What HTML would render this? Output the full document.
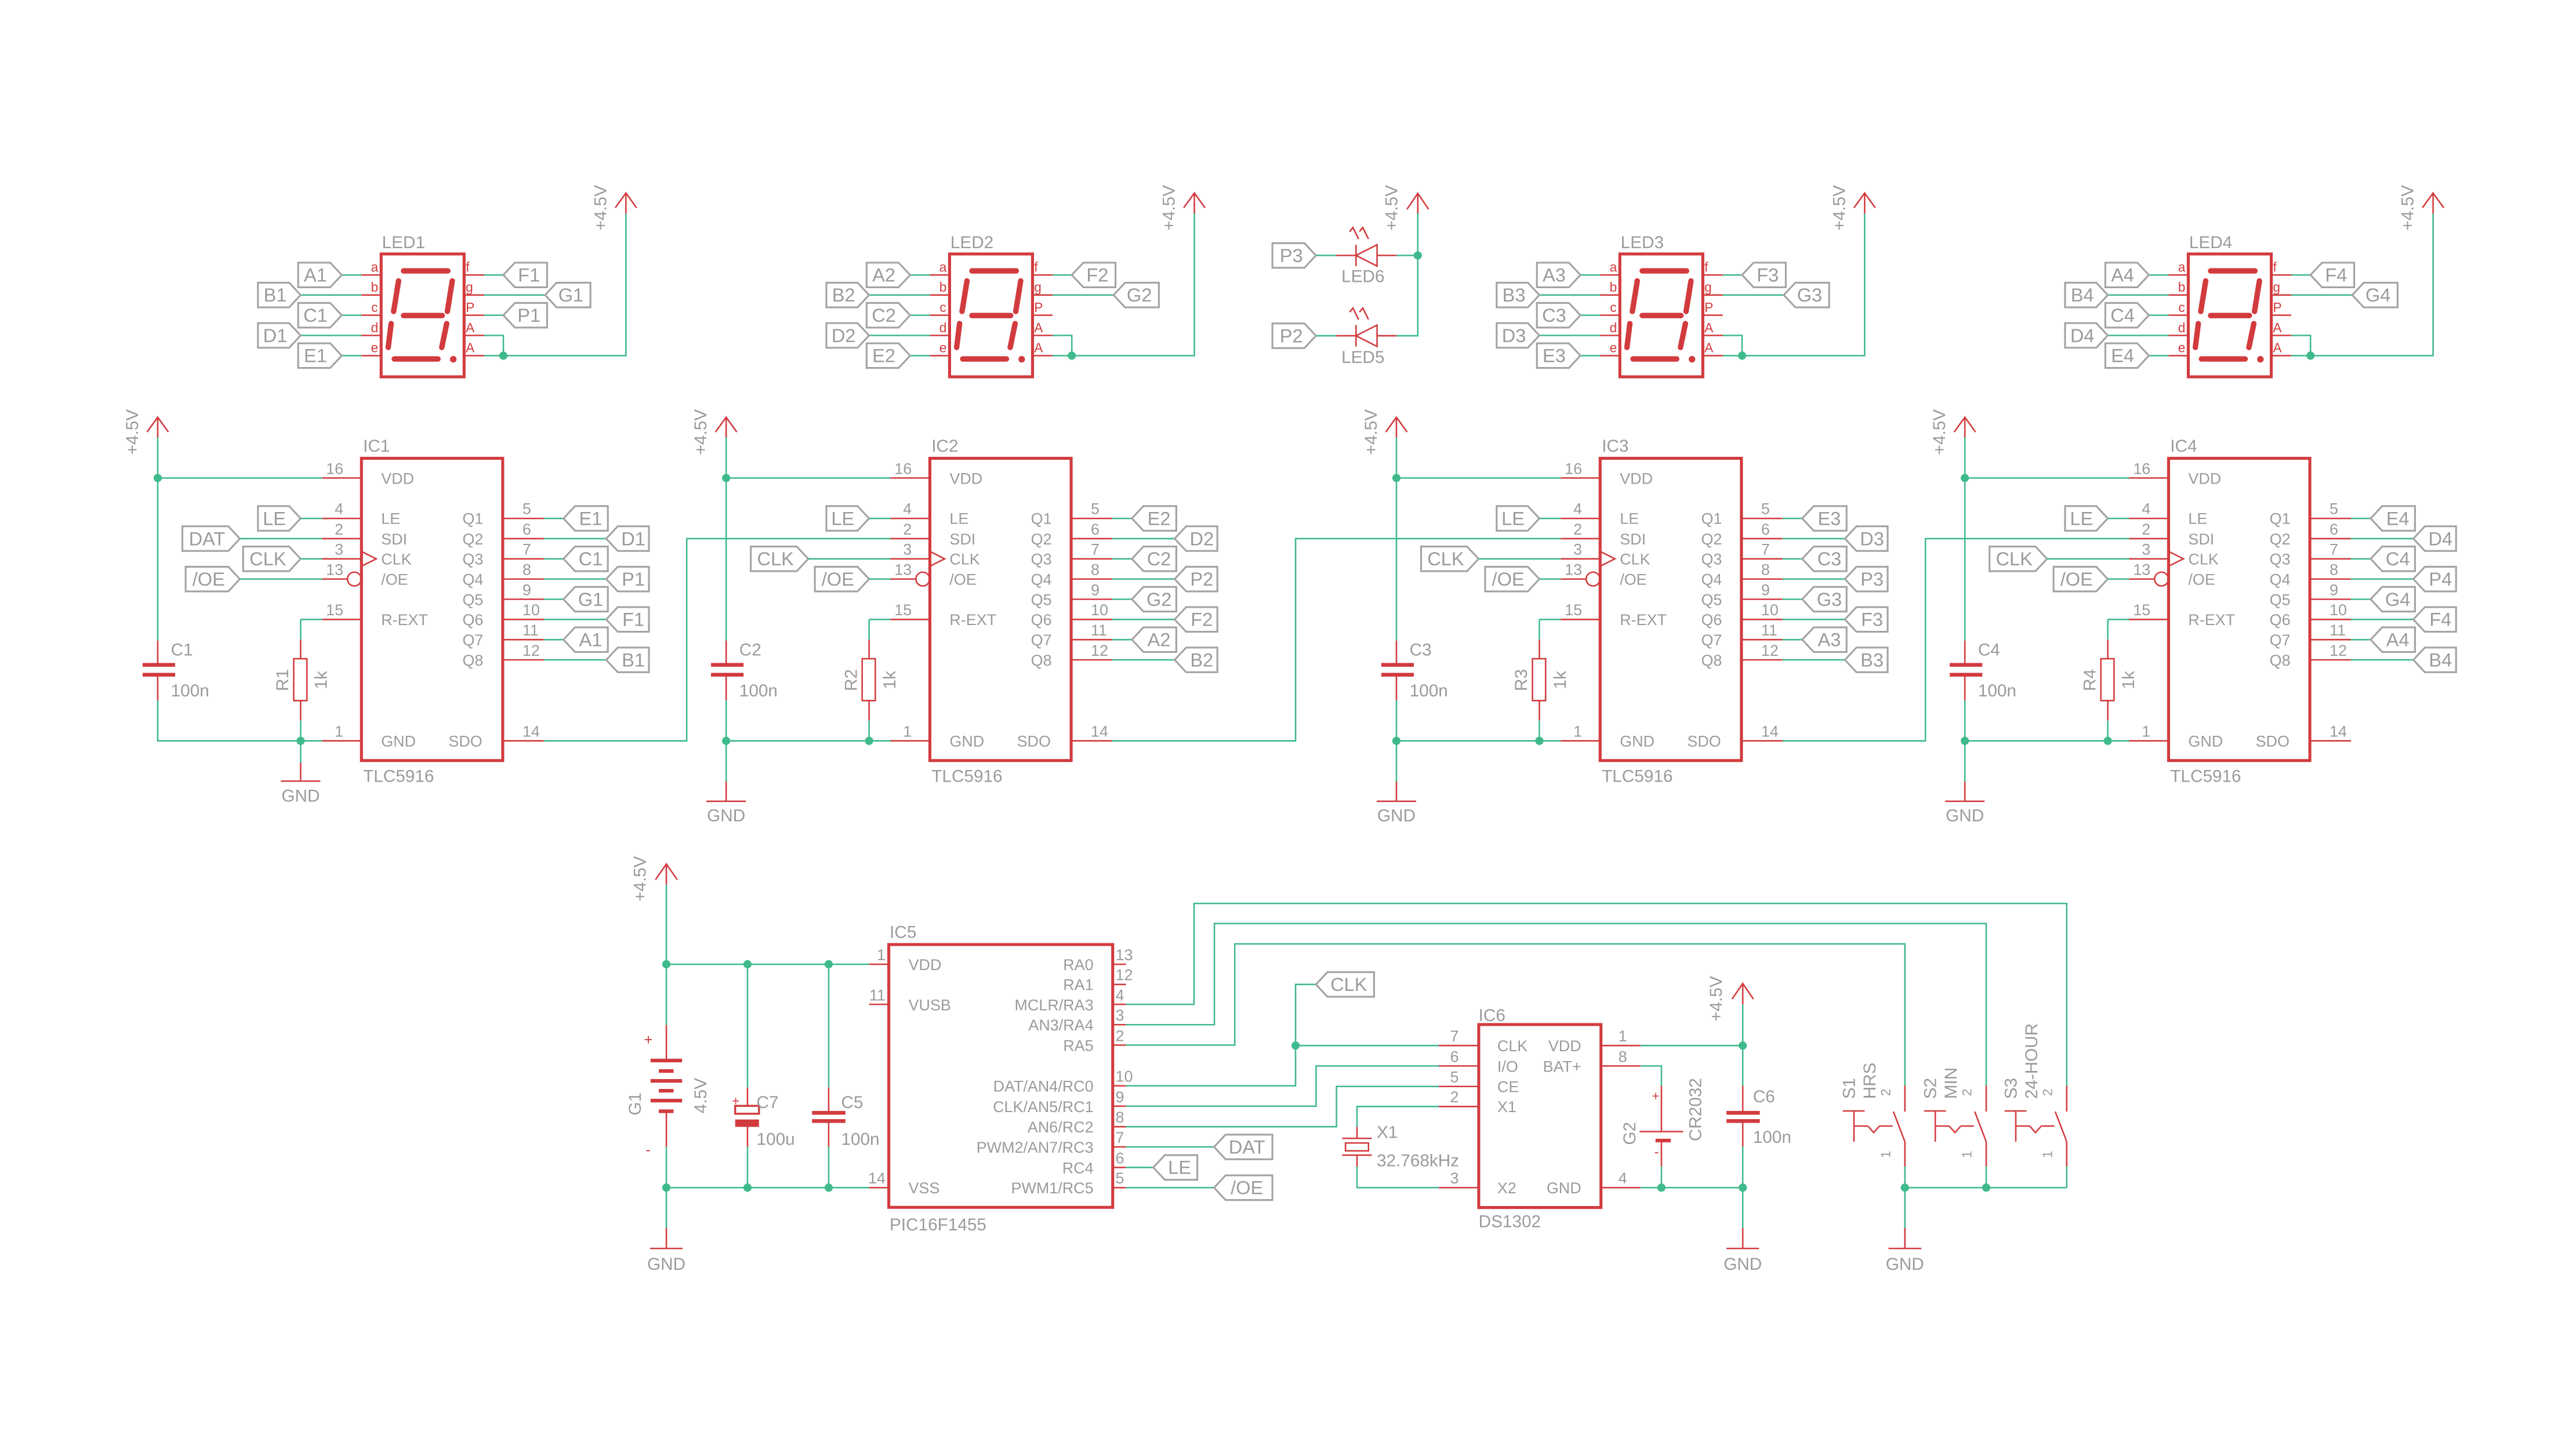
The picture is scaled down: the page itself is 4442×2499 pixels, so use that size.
<!DOCTYPE html>
<html><head><meta charset="utf-8"><style>
html,body{margin:0;padding:0;background:#fff}
svg{display:block}
.w{stroke:#3fba8c;stroke-width:.9;fill:none}
.r{stroke:#d23b3e;stroke-width:.9;fill:none}
.b{stroke:#d23b3e;stroke-width:1.8;fill:none}
.s{stroke:#d23b3e;stroke-width:3.3;fill:none;stroke-linecap:round}
.f{stroke:#a3a3a3;stroke-width:1.1;fill:none}
.pl{stroke:#d23b3e;stroke-width:2.2;fill:none}
.d{fill:#3fba8c}
text{font-family:"Liberation Sans",sans-serif;fill:#9b9b9b}
.t{font-size:11.5px}
.p{font-size:9.5px}
.n{font-size:10.5px}
.l{font-size:8px;fill:#d23b3e}
.m{text-anchor:middle}
.e{text-anchor:end}
</style></head><body>
<svg width="4442" height="2499" viewBox="0 0 1568 882.1" preserveAspectRatio="none" xmlns="http://www.w3.org/2000/svg">
<defs>
<g id="tlc">
<rect x="220" y="279" width="86" height="184" class="b"/>
<path class="r" d="M196 291H220M196 315.6H220M196 327.9H220M196 340.2H220M196 352.5H211.4M196 377.1H220M196 451H220"/>
<circle cx="215.7" cy="352.5" r="4.2" class="r"/>
<path class="r" d="M220 335.7L229 340.2L220 344.7"/>
<path class="r" d="M306 315.6H331M306 327.9H331M306 340.2H331M306 352.5H331M306 364.8H331M306 377.1H331M306 389.4H331M306 401.7H331M306 451H331"/>
<path class="w" d="M331 315.6H343M331 327.9H369M331 340.2H343M331 352.5H369M331 364.8H343M331 377.1H369M331 389.4H343M331 401.7H369"/>
<polygon class="f" points="343,315.6 350,308.1 370,308.1 370,323.1 350,323.1"/>
<polygon class="f" points="369,327.9 376,320.4 395,320.4 395,335.4 376,335.4"/>
<polygon class="f" points="343,340.2 350,332.7 370,332.7 370,347.7 350,347.7"/>
<polygon class="f" points="369,352.5 376,345 395,345 395,360 376,360"/>
<polygon class="f" points="343,364.8 350,357.3 370,357.3 370,372.3 350,372.3"/>
<polygon class="f" points="369,377.1 376,369.6 395,369.6 395,384.6 376,384.6"/>
<polygon class="f" points="343,389.4 350,381.9 370,381.9 370,396.9 350,396.9"/>
<polygon class="f" points="369,401.7 376,394.2 395,394.2 395,409.2 376,409.2"/>
<polygon class="f" points="157,308.1 176,308.1 183,315.6 176,323.1 157,323.1"/>
<path class="w" d="M183 315.6H196"/>
<path class="r" d="M96 254V266.4M89.5 263L96 254L102.5 263"/>
<path class="w" d="M96 266.4V390M96 291H196M96 426.4V451H196M183 377.1H196M183 377.1V389.4M183 438.6V451"/>
<path class="r" d="M96 390V404.6M96 411.4V426.4M183 389.4V401M183 426.5V438.6"/>
<rect x="86.8" y="403.6" width="19.8" height="2.3" fill="#d23b3e"/>
<rect x="86.8" y="409.6" width="19.8" height="2.3" fill="#d23b3e"/>
<rect x="178.8" y="401" width="8" height="25.5" class="r"/>
<circle cx="96" cy="291" r="2.5" class="d"/>
<circle cx="183" cy="451" r="2.5" class="d"/>
</g>
<g id="led">
<rect x="232" y="154.6" width="50.5" height="74.8" class="b"/>
<path class="s" d="M245.6 164.9H272.6M242.6 171L239.6 189.6M275.3 171L272.3 189.6M245.6 192.1H269.2M238.1 197L236.3 211.5M271.9 197L268.9 211.5M240 218.5H266.6"/>
<circle cx="275.9" cy="218.7" r="2" fill="#d23b3e"/>
<path class="r" d="M220 167.4H232M220 179.6H232M220 191.9H232M220 204.2H232M220 216.5H232M282.5 167.4H294.7M282.5 179.6H294.7M282.5 191.9H294.7M282.5 204.2H294.7M282.5 216.5H294.7"/>
<path class="w" d="M294.7 204.2H306.4V216.5M294.7 216.5H381V130M208 167.4H220M183 179.6H220M208 191.9H220M183 204.2H220M208 216.5H220M294.7 167.4H306.4M294.7 179.6H331.8"/>
<circle cx="306.4" cy="216.5" r="2.5" class="d"/>
<path class="r" d="M381 117.5V130M374.5 126.5L381 117.5L387.5 126.5"/>
<polygon class="f" points="181.5,159.9 201,159.9 208,167.4 201,174.9 181.5,174.9"/>
<polygon class="f" points="157,172.1 176,172.1 183,179.6 176,187.1 157,187.1"/>
<polygon class="f" points="181.5,184.4 201,184.4 208,191.9 201,199.4 181.5,199.4"/>
<polygon class="f" points="157,196.7 176,196.7 183,204.2 176,211.7 157,211.7"/>
<polygon class="f" points="181.5,209 201,209 208,216.5 201,224 181.5,224"/>
<polygon class="f" points="306.4,167.4 313.4,159.9 333,159.9 333,174.9 313.4,174.9"/>
<polygon class="f" points="331.8,179.6 338.8,172.1 359.4,172.1 359.4,187.1 338.8,187.1"/>
</g>
</defs>

<!-- ===== LED displays ===== -->
<use href="#led"/>
<use href="#led" transform="translate(346,0)"/>
<use href="#led" transform="translate(754,0)"/>
<use href="#led" transform="translate(1100,0)"/>
<!-- LED1 P1 flag -->
<path class="w" d="M294.7 191.9H306.4"/>
<polygon class="f" points="306.4,191.9 313.4,184.4 333,184.4 333,199.4 313.4,199.4"/>

<g>
<text class="n" x="232.5" y="151">LED1</text>
<text class="l m" x="228" y="165.4">a</text><text class="l m" x="228" y="177.6">b</text><text class="l m" x="228" y="189.9">c</text><text class="l m" x="228" y="202.2">d</text><text class="l m" x="228" y="214.5">e</text>
<text class="l" x="283.5" y="165.4">f</text><text class="l" x="283.5" y="177.6">g</text><text class="l" x="283.5" y="189.9">P</text><text class="l" x="283.5" y="202.2">A</text><text class="l" x="283.5" y="214.5">A</text>
<text class="t m" x="192" y="171.4">A1</text><text class="t m" x="167.5" y="183.6">B1</text><text class="t m" x="192" y="195.9">C1</text><text class="t m" x="167.5" y="208.2">D1</text><text class="t m" x="192" y="220.5">E1</text>
<text class="t m" x="322" y="171.4">F1</text><text class="t m" x="347.5" y="183.6">G1</text><text class="t m" x="322" y="195.9">P1</text>
<text class="n m" transform="translate(369,126.5) rotate(-90)">+4.5V</text>
</g>
<g transform="translate(346,0)">
<text class="n" x="232.5" y="151">LED2</text>
<text class="l m" x="228" y="165.4">a</text><text class="l m" x="228" y="177.6">b</text><text class="l m" x="228" y="189.9">c</text><text class="l m" x="228" y="202.2">d</text><text class="l m" x="228" y="214.5">e</text>
<text class="l" x="283.5" y="165.4">f</text><text class="l" x="283.5" y="177.6">g</text><text class="l" x="283.5" y="189.9">P</text><text class="l" x="283.5" y="202.2">A</text><text class="l" x="283.5" y="214.5">A</text>
<text class="t m" x="192" y="171.4">A2</text><text class="t m" x="167.5" y="183.6">B2</text><text class="t m" x="192" y="195.9">C2</text><text class="t m" x="167.5" y="208.2">D2</text><text class="t m" x="192" y="220.5">E2</text>
<text class="t m" x="322" y="171.4">F2</text><text class="t m" x="347.5" y="183.6">G2</text>
<text class="n m" transform="translate(369,126.5) rotate(-90)">+4.5V</text>
</g>
<g transform="translate(754,0)">
<text class="n" x="232.5" y="151">LED3</text>
<text class="l m" x="228" y="165.4">a</text><text class="l m" x="228" y="177.6">b</text><text class="l m" x="228" y="189.9">c</text><text class="l m" x="228" y="202.2">d</text><text class="l m" x="228" y="214.5">e</text>
<text class="l" x="283.5" y="165.4">f</text><text class="l" x="283.5" y="177.6">g</text><text class="l" x="283.5" y="189.9">P</text><text class="l" x="283.5" y="202.2">A</text><text class="l" x="283.5" y="214.5">A</text>
<text class="t m" x="192" y="171.4">A3</text><text class="t m" x="167.5" y="183.6">B3</text><text class="t m" x="192" y="195.9">C3</text><text class="t m" x="167.5" y="208.2">D3</text><text class="t m" x="192" y="220.5">E3</text>
<text class="t m" x="322" y="171.4">F3</text><text class="t m" x="347.5" y="183.6">G3</text>
<text class="n m" transform="translate(369,126.5) rotate(-90)">+4.5V</text>
</g>
<g transform="translate(1100,0)">
<text class="n" x="232.5" y="151">LED4</text>
<text class="l m" x="228" y="165.4">a</text><text class="l m" x="228" y="177.6">b</text><text class="l m" x="228" y="189.9">c</text><text class="l m" x="228" y="202.2">d</text><text class="l m" x="228" y="214.5">e</text>
<text class="l" x="283.5" y="165.4">f</text><text class="l" x="283.5" y="177.6">g</text><text class="l" x="283.5" y="189.9">P</text><text class="l" x="283.5" y="202.2">A</text><text class="l" x="283.5" y="214.5">A</text>
<text class="t m" x="192" y="171.4">A4</text><text class="t m" x="167.5" y="183.6">B4</text><text class="t m" x="192" y="195.9">C4</text><text class="t m" x="167.5" y="208.2">D4</text><text class="t m" x="192" y="220.5">E4</text>
<text class="t m" x="322" y="171.4">F4</text><text class="t m" x="347.5" y="183.6">G4</text>
<text class="n m" transform="translate(369,126.5) rotate(-90)">+4.5V</text>
</g>

<!-- LED5 / LED6 -->
<g>
<polygon class="f" points="774.5,148 794,148 801,155.5 794,163 774.5,163"/>
<polygon class="f" points="774.5,196.9 794,196.9 801,204.4 794,211.9 774.5,211.9"/>
<text class="t m" x="786" y="159.5">P3</text>
<text class="t m" x="786" y="208.4">P2</text>
<path class="w" d="M801 155.5H813.4M850.1 155.5H863M801 204.4H813.4M850.1 204.4H863V130"/>
<path class="r" d="M813.4 155.5H825.4M838.2 155.5H850.1M825.4 149V162M838.2 149V162L825.4 155.5Z"/>
<path class="r" d="M813.4 204.4H825.4M838.2 204.4H850.1M825.4 197.9V210.9M838.2 197.9V210.9L825.4 204.4Z"/>
<path class="r" d="M827 145.5L823.5 138.5M833 145.5L829.5 138.5M821.5 141L823.5 138.5L825 141.5M827.5 141L829.5 138.5L831 141.5"/>
<path class="r" d="M827 194.5L823.5 187.5M833 194.5L829.5 187.5M821.5 190L823.5 187.5L825 190.5M827.5 190L829.5 187.5L831 190.5"/>
<circle cx="863" cy="155.5" r="2.5" class="d"/>
<path class="r" d="M863 117.7V130M856.4 127.4L863 117.7L869.6 127.4"/>
<text class="n" x="816.5" y="171.8">LED6</text>
<text class="n" x="816.5" y="221">LED5</text>
<text class="n m" transform="translate(850.5,126.5) rotate(-90)">+4.5V</text>
</g>

<!-- ===== TLC5916 ===== -->
<use href="#tlc"/>
<use href="#tlc" transform="translate(346,0)"/>
<use href="#tlc" transform="translate(754,0)"/>
<use href="#tlc" transform="translate(1100,0)"/>

<!-- IC1 specifics -->
<polygon class="f" points="111,320.4 139,320.4 146,327.9 139,335.4 111,335.4"/>
<polygon class="f" points="148,332.7 176,332.7 183,340.2 176,347.7 148,347.7"/>
<polygon class="f" points="113,345 139,345 146,352.5 139,360 113,360"/>
<path class="w" d="M146 327.9H196M183 340.2H196M146 352.5H196M183 451V464.4"/>
<path class="r" d="M183 464.4V475.5M171 475.5H195"/>
<text class="n m" x="183" y="488">GND</text>
<!-- chain wires -->
<path class="w" d="M331 451H418V327.9H542"/>
<path class="w" d="M677 451H788.6V327.9H950"/>
<path class="w" d="M1085 451H1172V327.9H1296"/>
<!-- IC2-4 specifics -->
<g transform="translate(346,0)">
<polygon class="f" points="111,332.7 139,332.7 146,340.2 139,347.7 111,347.7"/>
<polygon class="f" points="150,345 176,345 183,352.5 176,360 150,360"/>
<path class="w" d="M146 340.2H196M183 352.5H196M96 451V476"/>
<path class="r" d="M96 476V487.8M84 487.8H108"/>
<circle cx="96" cy="451" r="2.5" class="d"/>
<text class="n m" x="96" y="500">GND</text>
</g>
<g transform="translate(754,0)">
<polygon class="f" points="111,332.7 139,332.7 146,340.2 139,347.7 111,347.7"/>
<polygon class="f" points="150,345 176,345 183,352.5 176,360 150,360"/>
<path class="w" d="M146 340.2H196M183 352.5H196M96 451V476"/>
<path class="r" d="M96 476V487.8M84 487.8H108"/>
<circle cx="96" cy="451" r="2.5" class="d"/>
<text class="n m" x="96" y="500">GND</text>
</g>
<g transform="translate(1100,0)">
<polygon class="f" points="111,332.7 139,332.7 146,340.2 139,347.7 111,347.7"/>
<polygon class="f" points="150,345 176,345 183,352.5 176,360 150,360"/>
<path class="w" d="M146 340.2H196M183 352.5H196M96 451V476"/>
<path class="r" d="M96 476V487.8M84 487.8H108"/>
<circle cx="96" cy="451" r="2.5" class="d"/>
<text class="n m" x="96" y="500">GND</text>
</g>

<!-- IC texts -->
<g>
<text class="n" x="221" y="275">IC1</text><text class="n" x="221" y="476">TLC5916</text>
<text class="p e" x="209" y="288.5">16</text><text class="p e" x="209" y="313">4</text><text class="p e" x="209" y="325.4">2</text><text class="p e" x="209" y="337.7">3</text><text class="p e" x="209" y="350">13</text><text class="p e" x="209" y="374.6">15</text><text class="p e" x="209" y="448.5">1</text>
<text class="p" x="318" y="313">5</text><text class="p" x="318" y="325.4">6</text><text class="p" x="318" y="337.7">7</text><text class="p" x="318" y="350">8</text><text class="p" x="318" y="362.3">9</text><text class="p" x="318" y="374.6">10</text><text class="p" x="318" y="386.9">11</text><text class="p" x="318" y="399.2">12</text><text class="p" x="318" y="448.5">14</text>
<text class="p" x="232" y="294.5">VDD</text><text class="p" x="232" y="319">LE</text><text class="p" x="232" y="331.4">SDI</text><text class="p" x="232" y="343.7">CLK</text><text class="p" x="232" y="356">/OE</text><text class="p" x="232" y="380.6">R-EXT</text><text class="p" x="232" y="454.5">GND</text>
<text class="p" x="281.5" y="319">Q1</text><text class="p" x="281.5" y="331.4">Q2</text><text class="p" x="281.5" y="343.7">Q3</text><text class="p" x="281.5" y="356">Q4</text><text class="p" x="281.5" y="368.3">Q5</text><text class="p" x="281.5" y="380.6">Q6</text><text class="p" x="281.5" y="392.9">Q7</text><text class="p" x="281.5" y="405.2">Q8</text><text class="p" x="273" y="454.5">SDO</text>
<text class="t m" x="167" y="319.6">LE</text>
<text class="t m" x="126" y="331.9">DAT</text><text class="t m" x="163" y="344.2">CLK</text><text class="t m" x="127" y="356.5">/OE</text>
<text class="t m" x="359.5" y="319.6">E1</text><text class="t m" x="385.5" y="331.9">D1</text><text class="t m" x="359.5" y="344.2">C1</text><text class="t m" x="385.5" y="356.5">P1</text><text class="t m" x="359.5" y="368.8">G1</text><text class="t m" x="385.5" y="381.1">F1</text><text class="t m" x="359.5" y="393.4">A1</text><text class="t m" x="385.5" y="405.7">B1</text>
<text class="n" x="104" y="399">C1</text><text class="n" x="104" y="424">100n</text>
<text class="n m" transform="translate(175.5,414) rotate(-90)">R1</text>
<text class="n m" transform="translate(199,414) rotate(-90)">1k</text>
<text class="n m" transform="translate(84,263) rotate(-90)">+4.5V</text>
</g>
<g transform="translate(346,0)">
<text class="n" x="221" y="275">IC2</text><text class="n" x="221" y="476">TLC5916</text>
<text class="p e" x="209" y="288.5">16</text><text class="p e" x="209" y="313">4</text><text class="p e" x="209" y="325.4">2</text><text class="p e" x="209" y="337.7">3</text><text class="p e" x="209" y="350">13</text><text class="p e" x="209" y="374.6">15</text><text class="p e" x="209" y="448.5">1</text>
<text class="p" x="318" y="313">5</text><text class="p" x="318" y="325.4">6</text><text class="p" x="318" y="337.7">7</text><text class="p" x="318" y="350">8</text><text class="p" x="318" y="362.3">9</text><text class="p" x="318" y="374.6">10</text><text class="p" x="318" y="386.9">11</text><text class="p" x="318" y="399.2">12</text><text class="p" x="318" y="448.5">14</text>
<text class="p" x="232" y="294.5">VDD</text><text class="p" x="232" y="319">LE</text><text class="p" x="232" y="331.4">SDI</text><text class="p" x="232" y="343.7">CLK</text><text class="p" x="232" y="356">/OE</text><text class="p" x="232" y="380.6">R-EXT</text><text class="p" x="232" y="454.5">GND</text>
<text class="p" x="281.5" y="319">Q1</text><text class="p" x="281.5" y="331.4">Q2</text><text class="p" x="281.5" y="343.7">Q3</text><text class="p" x="281.5" y="356">Q4</text><text class="p" x="281.5" y="368.3">Q5</text><text class="p" x="281.5" y="380.6">Q6</text><text class="p" x="281.5" y="392.9">Q7</text><text class="p" x="281.5" y="405.2">Q8</text><text class="p" x="273" y="454.5">SDO</text>
<text class="t m" x="167" y="319.6">LE</text>
<text class="t m" x="126" y="344.2">CLK</text><text class="t m" x="164" y="356.5">/OE</text>
<text class="t m" x="359.5" y="319.6">E2</text><text class="t m" x="385.5" y="331.9">D2</text><text class="t m" x="359.5" y="344.2">C2</text><text class="t m" x="385.5" y="356.5">P2</text><text class="t m" x="359.5" y="368.8">G2</text><text class="t m" x="385.5" y="381.1">F2</text><text class="t m" x="359.5" y="393.4">A2</text><text class="t m" x="385.5" y="405.7">B2</text>
<text class="n" x="104" y="399">C2</text><text class="n" x="104" y="424">100n</text>
<text class="n m" transform="translate(175.5,414) rotate(-90)">R2</text>
<text class="n m" transform="translate(199,414) rotate(-90)">1k</text>
<text class="n m" transform="translate(84,263) rotate(-90)">+4.5V</text>
</g>
<g transform="translate(754,0)">
<text class="n" x="221" y="275">IC3</text><text class="n" x="221" y="476">TLC5916</text>
<text class="p e" x="209" y="288.5">16</text><text class="p e" x="209" y="313">4</text><text class="p e" x="209" y="325.4">2</text><text class="p e" x="209" y="337.7">3</text><text class="p e" x="209" y="350">13</text><text class="p e" x="209" y="374.6">15</text><text class="p e" x="209" y="448.5">1</text>
<text class="p" x="318" y="313">5</text><text class="p" x="318" y="325.4">6</text><text class="p" x="318" y="337.7">7</text><text class="p" x="318" y="350">8</text><text class="p" x="318" y="362.3">9</text><text class="p" x="318" y="374.6">10</text><text class="p" x="318" y="386.9">11</text><text class="p" x="318" y="399.2">12</text><text class="p" x="318" y="448.5">14</text>
<text class="p" x="232" y="294.5">VDD</text><text class="p" x="232" y="319">LE</text><text class="p" x="232" y="331.4">SDI</text><text class="p" x="232" y="343.7">CLK</text><text class="p" x="232" y="356">/OE</text><text class="p" x="232" y="380.6">R-EXT</text><text class="p" x="232" y="454.5">GND</text>
<text class="p" x="281.5" y="319">Q1</text><text class="p" x="281.5" y="331.4">Q2</text><text class="p" x="281.5" y="343.7">Q3</text><text class="p" x="281.5" y="356">Q4</text><text class="p" x="281.5" y="368.3">Q5</text><text class="p" x="281.5" y="380.6">Q6</text><text class="p" x="281.5" y="392.9">Q7</text><text class="p" x="281.5" y="405.2">Q8</text><text class="p" x="273" y="454.5">SDO</text>
<text class="t m" x="167" y="319.6">LE</text>
<text class="t m" x="126" y="344.2">CLK</text><text class="t m" x="164" y="356.5">/OE</text>
<text class="t m" x="359.5" y="319.6">E3</text><text class="t m" x="385.5" y="331.9">D3</text><text class="t m" x="359.5" y="344.2">C3</text><text class="t m" x="385.5" y="356.5">P3</text><text class="t m" x="359.5" y="368.8">G3</text><text class="t m" x="385.5" y="381.1">F3</text><text class="t m" x="359.5" y="393.4">A3</text><text class="t m" x="385.5" y="405.7">B3</text>
<text class="n" x="104" y="399">C3</text><text class="n" x="104" y="424">100n</text>
<text class="n m" transform="translate(175.5,414) rotate(-90)">R3</text>
<text class="n m" transform="translate(199,414) rotate(-90)">1k</text>
<text class="n m" transform="translate(84,263) rotate(-90)">+4.5V</text>
</g>
<g transform="translate(1100,0)">
<text class="n" x="221" y="275">IC4</text><text class="n" x="221" y="476">TLC5916</text>
<text class="p e" x="209" y="288.5">16</text><text class="p e" x="209" y="313">4</text><text class="p e" x="209" y="325.4">2</text><text class="p e" x="209" y="337.7">3</text><text class="p e" x="209" y="350">13</text><text class="p e" x="209" y="374.6">15</text><text class="p e" x="209" y="448.5">1</text>
<text class="p" x="318" y="313">5</text><text class="p" x="318" y="325.4">6</text><text class="p" x="318" y="337.7">7</text><text class="p" x="318" y="350">8</text><text class="p" x="318" y="362.3">9</text><text class="p" x="318" y="374.6">10</text><text class="p" x="318" y="386.9">11</text><text class="p" x="318" y="399.2">12</text><text class="p" x="318" y="448.5">14</text>
<text class="p" x="232" y="294.5">VDD</text><text class="p" x="232" y="319">LE</text><text class="p" x="232" y="331.4">SDI</text><text class="p" x="232" y="343.7">CLK</text><text class="p" x="232" y="356">/OE</text><text class="p" x="232" y="380.6">R-EXT</text><text class="p" x="232" y="454.5">GND</text>
<text class="p" x="281.5" y="319">Q1</text><text class="p" x="281.5" y="331.4">Q2</text><text class="p" x="281.5" y="343.7">Q3</text><text class="p" x="281.5" y="356">Q4</text><text class="p" x="281.5" y="368.3">Q5</text><text class="p" x="281.5" y="380.6">Q6</text><text class="p" x="281.5" y="392.9">Q7</text><text class="p" x="281.5" y="405.2">Q8</text><text class="p" x="273" y="454.5">SDO</text>
<text class="t m" x="167" y="319.6">LE</text>
<text class="t m" x="126" y="344.2">CLK</text><text class="t m" x="164" y="356.5">/OE</text>
<text class="t m" x="359.5" y="319.6">E4</text><text class="t m" x="385.5" y="331.9">D4</text><text class="t m" x="359.5" y="344.2">C4</text><text class="t m" x="385.5" y="356.5">P4</text><text class="t m" x="359.5" y="368.8">G4</text><text class="t m" x="385.5" y="381.1">F4</text><text class="t m" x="359.5" y="393.4">A4</text><text class="t m" x="385.5" y="405.7">B4</text>
<text class="n" x="104" y="399">C4</text><text class="n" x="104" y="424">100n</text>
<text class="n m" transform="translate(175.5,414) rotate(-90)">R4</text>
<text class="n m" transform="translate(199,414) rotate(-90)">1k</text>
<text class="n m" transform="translate(84,263) rotate(-90)">+4.5V</text>
</g>

<!-- ===== IC5 PIC16F1455 section ===== -->
<path class="r" d="M405.6 526V538.5M399 535.5L405.6 526L412.2 535.5"/>
<text class="n m" transform="translate(393,535) rotate(-90)">+4.5V</text>
<path class="w" d="M405.6 538.5V624M405.6 587H529M405.6 698V747.6M405.6 723H529M455 587V662M455 698V723M504.4 587V662M504.4 698V723"/>
<circle cx="405.6" cy="587" r="2.5" class="d"/><circle cx="455" cy="587" r="2.5" class="d"/><circle cx="504.4" cy="587" r="2.5" class="d"/>
<circle cx="405.6" cy="723" r="2.5" class="d"/><circle cx="455" cy="723" r="2.5" class="d"/><circle cx="504.4" cy="723" r="2.5" class="d"/>
<!-- battery -->
<path class="r" d="M405.6 624V645.6M405.6 676.5V698"/>
<path class="pl" d="M396 645.6H415.2M401 652H410M396 658H415.2M401 664H410M396 670H415.2M401 676.5H410"/>
<text x="392" y="636" style="font-size:9px;fill:#d23b3e">+</text>
<text x="393" y="703" style="font-size:9px;fill:#d23b3e">-</text>
<text class="n m" transform="translate(390,672) rotate(-90)">G1</text>
<text class="n m" transform="translate(430,667) rotate(-90)">4.5V</text>
<path class="r" d="M405.6 747.6V760M395.7 760H415.5"/>
<text class="n m" x="405.6" y="773">GND</text>
<!-- C7 -->
<path class="r" d="M455 662V673.2M455 686V698"/>
<rect x="447.5" y="673.2" width="14.5" height="4.8" class="r" style="stroke-width:1.2"/>
<rect x="447.5" y="681.5" width="14.5" height="4.5" fill="#d23b3e"/>
<text x="445.5" y="673" style="font-size:8px;fill:#d23b3e">+</text>
<text class="n" x="460.5" y="674.5">C7</text><text class="n" x="460.5" y="697">100u</text>
<!-- C5 -->
<path class="r" d="M504.4 662V676.5M504.4 683.4V698"/>
<rect x="494.3" y="676.3" width="20.3" height="2.3" fill="#d23b3e"/>
<rect x="494.3" y="681.3" width="20.3" height="2.3" fill="#d23b3e"/>
<text class="n" x="512" y="674.5">C5</text><text class="n" x="512" y="697">100n</text>
<!-- IC5 box -->
<rect x="541" y="575" width="136.3" height="160" class="b"/>
<path class="r" d="M529 587H541M529 611.4H541M529 723H541M677.3 587H685.4M677.3 599.3H685.4M677.3 611.4H685.4M677.3 623.8H685.4M677.3 636.2H685.4M677.3 661H685.4M677.3 673.4H685.4M677.3 685.9H685.4M677.3 698.2H685.4M677.3 710.7H685.4M677.3 723H685.4"/>
<text class="n" x="541.5" y="571">IC5</text><text class="n" x="541.5" y="749">PIC16F1455</text>
<text class="p e" x="539" y="584.5">1</text><text class="p e" x="539" y="609">11</text><text class="p e" x="539" y="720.5">14</text>
<text class="p" x="553" y="590.5">VDD</text><text class="p" x="553" y="615">VUSB</text><text class="p" x="553" y="726.5">VSS</text>
<text class="p e" x="665.6" y="590.5">RA0</text><text class="p e" x="665.6" y="602.8">RA1</text><text class="p e" x="665.6" y="615">MCLR/RA3</text><text class="p e" x="665.6" y="627.3">AN3/RA4</text><text class="p e" x="665.6" y="639.7">RA5</text>
<text class="p e" x="665.6" y="664.5">DAT/AN4/RC0</text><text class="p e" x="665.6" y="677">CLK/AN5/RC1</text><text class="p e" x="665.6" y="689.4">AN6/RC2</text><text class="p e" x="665.6" y="701.7">PWM2/AN7/RC3</text><text class="p e" x="665.6" y="714.2">RC4</text><text class="p e" x="665.6" y="726.5">PWM1/RC5</text>
<text class="p" x="679" y="584.5">13</text><text class="p" x="679" y="596.8">12</text><text class="p" x="679" y="609">4</text><text class="p" x="679" y="621.3">3</text><text class="p" x="679" y="633.7">2</text><text class="p" x="679" y="658.5">10</text><text class="p" x="679" y="671">9</text><text class="p" x="679" y="683.4">8</text><text class="p" x="679" y="695.7">7</text><text class="p" x="679" y="708.2">6</text><text class="p" x="679" y="720.5">5</text>
<!-- IC5 right flags -->
<path class="w" d="M685.4 698.2H739M685.4 710.7H702M685.4 723H739"/>
<polygon class="f" points="739,698.2 746,690.7 774.5,690.7 774.5,705.7 746,705.7"/>
<polygon class="f" points="702,710.7 709,703.2 728.8,703.2 728.8,718.2 709,718.2"/>
<polygon class="f" points="739,723 746,715.5 774.5,715.5 774.5,730.5 746,730.5"/>
<text class="t m" x="759" y="702.2">DAT</text><text class="t m" x="718" y="714.7">LE</text><text class="t m" x="759" y="727">/OE</text>
<!-- wires to switches -->
<path class="w" d="M685.4 611.4H726.8V550H1258V661M685.4 623.8H739.2V562.2H1209V661M685.4 636.2H751.6V574.6H1159.5V661"/>
<!-- wires to DS1302 -->
<path class="w" d="M685.4 661H788.6V599.3H801M788.6 636.5H875.8M685.4 673.4H801.1V648.9H875.8M685.4 685.9H813.5V661.4H875.8M875.8 673.6H826V686M826 710V723H875.8"/>
<circle cx="788.6" cy="636.5" r="2.5" class="d"/>
<polygon class="f" points="801,599.3 808,591.8 836.4,591.8 836.4,606.8 808,606.8"/>
<text class="t m" x="821" y="603.3">CLK</text>
<!-- crystal -->
<path class="r" d="M826 686V693M817 693H835M817 703.2H835M826 703.2V710"/>
<rect x="819" y="695.8" width="14" height="4.8" class="r"/>
<text class="n" x="838" y="692.7">X1</text><text class="n" x="838" y="710">32.768kHz</text>
<!-- IC6 -->
<rect x="900.1" y="623.7" width="74.4" height="111.4" class="b"/>
<path class="r" d="M875.8 636.5H900.1M875.8 648.9H900.1M875.8 661.4H900.1M875.8 673.6H900.1M875.8 723H900.1M974.5 636.5H998.7M974.5 648.9H998.7M974.5 723H998.7"/>
<text class="n" x="900" y="621.6">IC6</text><text class="n" x="900" y="747">DS1302</text>
<text class="p" x="911.4" y="640">CLK</text><text class="p" x="911.4" y="652.4">I/O</text><text class="p" x="911.4" y="664.9">CE</text><text class="p" x="911.4" y="677.1">X1</text><text class="p" x="911.4" y="726.5">X2</text>
<text class="p e" x="962.5" y="640">VDD</text><text class="p e" x="962.5" y="652.4">BAT+</text><text class="p e" x="962.5" y="726.5">GND</text>
<text class="p m" x="885.3" y="634">7</text><text class="p m" x="885.3" y="646.4">6</text><text class="p m" x="885.3" y="658.9">5</text><text class="p m" x="885.3" y="671.1">2</text><text class="p m" x="885.3" y="720.5">3</text>
<text class="p m" x="987.7" y="634">1</text><text class="p m" x="987.7" y="646.4">8</text><text class="p m" x="987.7" y="720.5">4</text>
<!-- VDD / battery / C6 -->
<path class="w" d="M998.7 636.5H1060.8M1060.8 611.4V661M1060.8 698V747.6M998.7 648.9H1011.3V661M1011.3 710V723M998.7 723H1060.8"/>
<path class="r" d="M1060.8 598.7V611.4M1054.3 608.2L1060.8 598.7L1067.3 608.2"/>
<text class="n m" transform="translate(1048,608) rotate(-90)">+4.5V</text>
<circle cx="1060.8" cy="636.5" r="2.5" class="d"/><circle cx="1060.8" cy="723" r="2.5" class="d"/><circle cx="1011.3" cy="723" r="2.5" class="d"/>
<path class="r" d="M1011.3 661V688.9M998 688.9H1024.5M1011.3 694.3V710"/>
<path class="pl" d="M1007.7 694.3H1017"/>
<text x="1005.5" y="670" style="font-size:8px;fill:#d23b3e">+</text>
<text x="1007" y="704" style="font-size:8px;fill:#d23b3e">-</text>
<text class="n m" transform="translate(995.5,690) rotate(-90)">G2</text>
<text class="n m" transform="translate(1035.5,675.5) rotate(-90)">CR2032</text>
<path class="r" d="M1060.8 661V676.5M1060.8 683.4V698"/>
<rect x="1050.9" y="676.3" width="20.3" height="2.3" fill="#d23b3e"/>
<rect x="1050.9" y="681.3" width="20.3" height="2.3" fill="#d23b3e"/>
<text class="n" x="1067" y="671">C6</text><text class="n" x="1067" y="695.7">100n</text>
<path class="r" d="M1060.8 747.6V760M1050.9 760H1070.7"/>
<text class="n m" x="1060.8" y="773">GND</text>
<!-- switches -->
<path class="w" d="M1159.5 710V747.6M1209 710V723M1258 710V723M1159.5 723H1258"/>
<circle cx="1159.5" cy="723" r="2.5" class="d"/><circle cx="1209" cy="723" r="2.5" class="d"/>
<path class="r" d="M1159.5 747.6V760M1149.5 760H1169.5"/>
<text class="n m" x="1159.5" y="773">GND</text>
<g>
<path class="r" d="M1159.5 661V676.7M1152.5 676.7L1159.5 695M1159.5 695V710M1121.7 676.3H1135M1128.5 676.3V695M1128.5 685.5H1137M1137 685.5L1140.5 689.5L1144 685.5M1144 685.5H1152"/>
<text style="font-size:8px" class="m" transform="translate(1150.5,665) rotate(-90)">2</text>
<text style="font-size:8px" class="m" transform="translate(1150.5,702.8) rotate(-90)">1</text>
<text class="n" transform="translate(1129,669) rotate(-90)">S1</text>
<text class="n" transform="translate(1141.5,669) rotate(-90)">HRS</text>
</g>
<g transform="translate(49.5,0)">
<path class="r" d="M1159.5 661V676.7M1152.5 676.7L1159.5 695M1159.5 695V710M1121.7 676.3H1135M1128.5 676.3V695M1128.5 685.5H1137M1137 685.5L1140.5 689.5L1144 685.5M1144 685.5H1152"/>
<text style="font-size:8px" class="m" transform="translate(1150.5,665) rotate(-90)">2</text>
<text style="font-size:8px" class="m" transform="translate(1150.5,702.8) rotate(-90)">1</text>
<text class="n" transform="translate(1129,669) rotate(-90)">S2</text>
<text class="n" transform="translate(1141.5,669) rotate(-90)">MIN</text>
</g>
<g transform="translate(98.5,0)">
<path class="r" d="M1159.5 661V676.7M1152.5 676.7L1159.5 695M1159.5 695V710M1121.7 676.3H1135M1128.5 676.3V695M1128.5 685.5H1137M1137 685.5L1140.5 689.5L1144 685.5M1144 685.5H1152"/>
<text style="font-size:8px" class="m" transform="translate(1150.5,665) rotate(-90)">2</text>
<text style="font-size:8px" class="m" transform="translate(1150.5,702.8) rotate(-90)">1</text>
<text class="n" transform="translate(1129,669) rotate(-90)">S3</text>
<text class="n" transform="translate(1141.5,669) rotate(-90)">24-HOUR</text>
</g>
</svg>
</body></html>
